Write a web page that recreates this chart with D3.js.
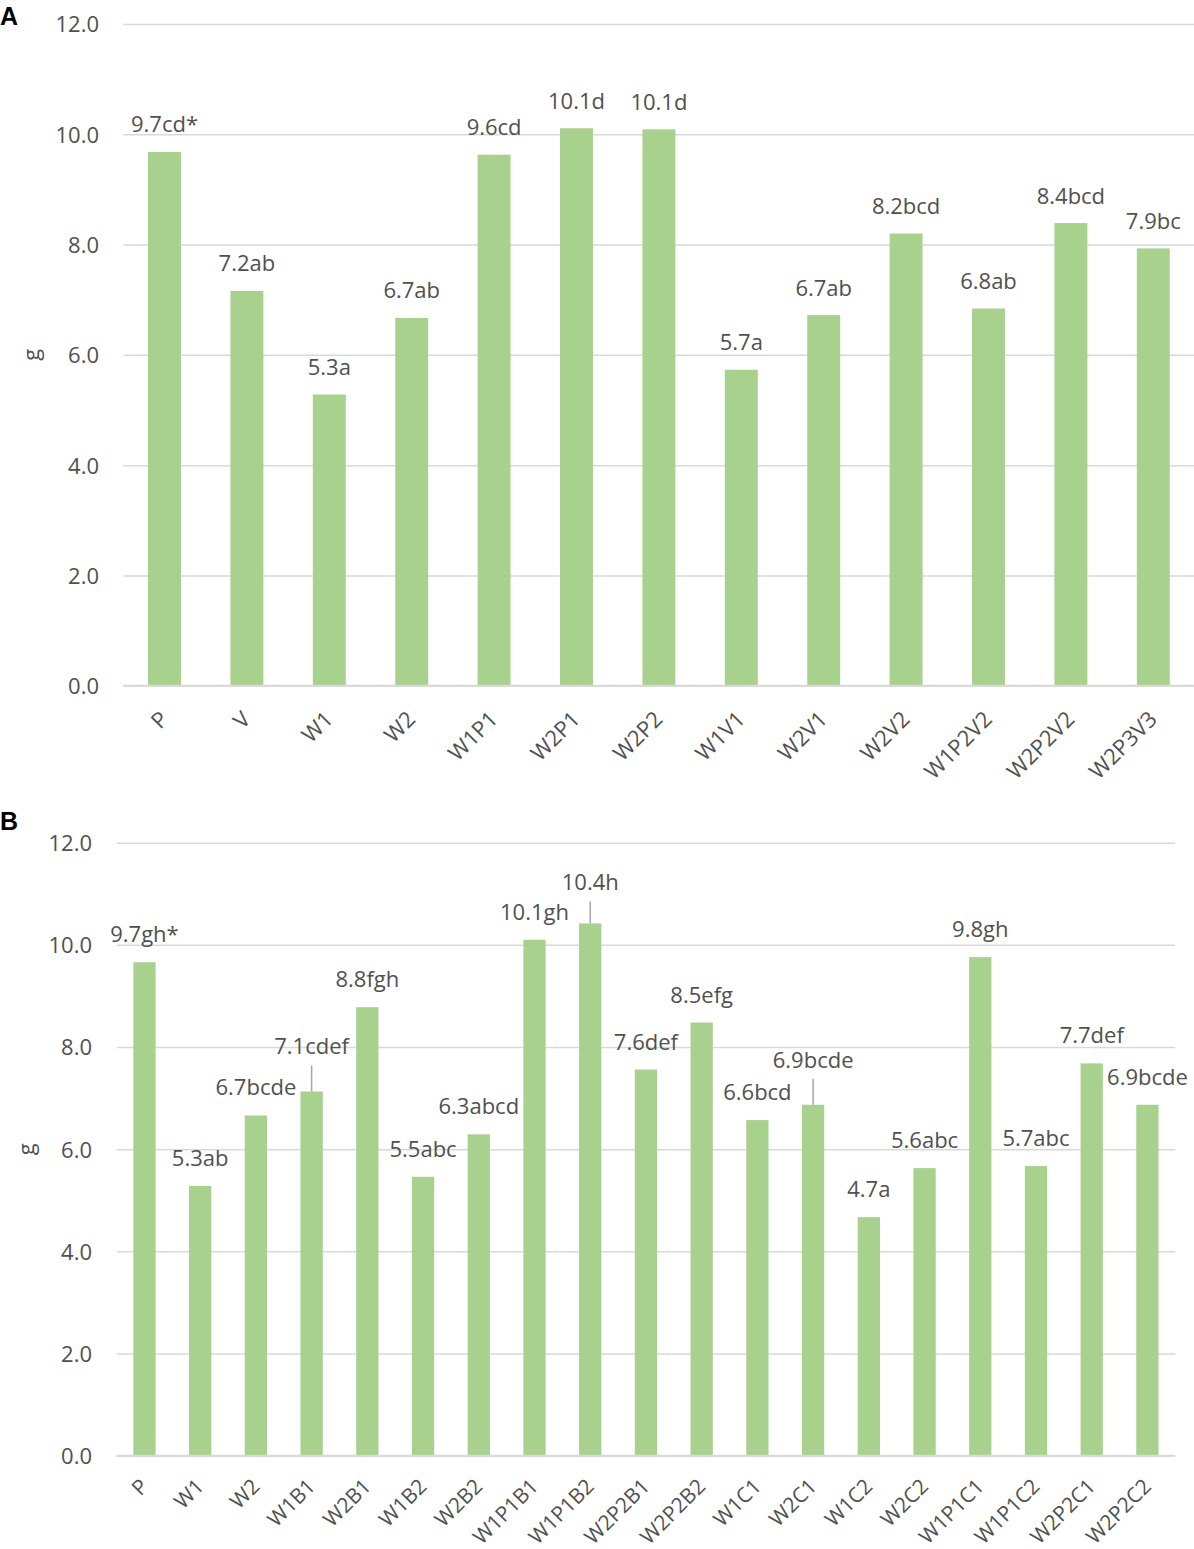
<!DOCTYPE html>
<html>
<head>
<meta charset="utf-8">
<script src="https://cdn.jsdelivr.net/npm/d3@7"></script>
<style>
  body { margin: 0; background: #ffffff; }
  text { font-family: "Open Sans", "Noto Sans", sans-serif; }
</style>
</head>
<body>
<svg id="chart" width="1194" height="1549"></svg>
<script>
// ---------- Data ----------
const categoriesA = ["P", "V", "W1", "W2", "W1P1", "W2P1", "W2P2", "W1V1", "W2V1", "W2V2", "W1P2V2", "W2P2V2", "W2P3V3"];
const valuesA = [9.68, 7.16, 5.28, 6.67, 9.63, 10.11, 10.09, 5.73, 6.72, 8.20, 6.84, 8.39, 7.93];
const labelsA = ["9.7cd*", "7.2ab", "5.3a", "6.7ab", "9.6cd", "10.1d", "10.1d", "5.7a", "6.7ab", "8.2bcd", "6.8ab", "8.4bcd", "7.9bc"];

const categoriesB = ["P", "W1", "W2", "W1B1", "W2B1", "W1B2", "W2B2", "W1P1B1", "W1P1B2", "W2P2B1", "W2P2B2", "W1C1", "W2C1", "W1C2", "W2C2", "W1P1C1", "W1P1C2", "W2P2C1", "W2P2C2"];
const valuesB = [9.66, 5.28, 6.66, 7.13, 8.78, 5.46, 6.29, 10.10, 10.42, 7.56, 8.48, 6.57, 6.87, 4.67, 5.63, 9.76, 5.67, 7.68, 6.87];
const labelsB = ["9.7gh*", "5.3ab", "6.7bcde", "7.1cdef", "8.8fgh", "5.5abc", "6.3abcd", "10.1gh", "10.4h", "7.6def", "8.5efg", "6.6bcd", "6.9bcde", "4.7a", "5.6abc", "9.8gh", "5.7abc", "7.7def", "6.9bcde"];

const yTicks = [0, 2, 4, 6, 8, 10, 12];
const yTitle = "g";

// ---------- Drawing ----------
const svg = d3.select("#chart");
svg.append("rect").attr("width", 1194).attr("height", 1549).attr("fill", "#ffffff");

const BAR = "#a9d18e";
const TXT = "#505050";
const GRID = "#d9d9d9";

function drawPanel(cfg) {
  const g = svg.append("g");
  const x = d3.scaleBand().domain(cfg.cats).range([cfg.x0, cfg.x1]).paddingInner(0.6).paddingOuter(0.3);
  const y = d3.scaleLinear().domain([0, 12]).range([cfg.yBot, cfg.yTop]);

  // gridlines + tick labels
  const ax = g.append("g")
    .attr("transform", `translate(${cfg.x0},0)`)
    .call(d3.axisLeft(y).tickValues(yTicks).tickFormat(d3.format(".1f"))
      .tickSize(-(cfg.x1 - cfg.x0)).tickPadding(cfg.x0 - cfg.tickRight));
  ax.select(".domain").remove();
  ax.selectAll(".tick line").attr("stroke", GRID).attr("stroke-width", 1.5);
  ax.selectAll(".tick text").attr("fill", TXT).attr("font-size", 22)
    .attr("dy", "0.36em").style("font-family", '"Open Sans", sans-serif');

  // bars
  g.selectAll("rect.bar").data(cfg.vals).enter().append("rect")
    .attr("class", "bar")
    .attr("x", (d, i) => x(cfg.cats[i]))
    .attr("width", x.bandwidth())
    .attr("y", d => y(d))
    .attr("height", d => y(0) - y(d))
    .attr("fill", BAR);

  // zero line on top
  g.append("line").attr("x1", cfg.x0).attr("x2", cfg.x1)
    .attr("y1", y(0)).attr("y2", y(0)).attr("stroke", GRID).attr("stroke-width", 2);

  // data labels
  cfg.vals.forEach((v, i) => {
    const cx = x(cfg.cats[i]) + x.bandwidth() / 2;
    const lift = cfg.leader[cfg.cats[i]];
    const base = y(v) - (lift || cfg.gap);
    if (lift) {
      g.append("line").attr("x1", cx).attr("x2", cx)
        .attr("y1", base + 11).attr("y2", y(v))
        .attr("stroke", "#a6a6a6").attr("stroke-width", 1.5);
    }
    g.append("text").attr("x", cx).attr("y", base)
      .attr("text-anchor", "middle").attr("font-size", 22).attr("fill", TXT)
      .text(cfg.labels[i]);
  });

  // category labels
  cfg.cats.forEach(c => {
    const cx = x(c) + x.bandwidth() / 2;
    g.append("text")
      .attr("transform", `translate(${cx + 5},${y(0) + cfg.catDy}) rotate(-45)`)
      .attr("text-anchor", "end").attr("font-size", cfg.catSize).attr("fill", TXT)
      .text(c);
  });

  // axis title
  g.append("text")
    .attr("transform", `translate(${cfg.titleX},${(cfg.yTop + cfg.yBot) / 2}) rotate(-90)`)
    .attr("text-anchor", "middle").attr("dy", "0.3em")
    .attr("font-size", 22).attr("fill", TXT).text(yTitle);

  // panel letter
  g.append("text").attr("x", 0).attr("y", cfg.letterY)
    .attr("font-size", 25).attr("font-weight", "bold").attr("fill", "#000")
    .style("font-family", '"Liberation Sans", Arial, sans-serif')
    .text(cfg.letter);
}

drawPanel({
  cats: categoriesA, vals: valuesA, labels: labelsA,
  x0: 123.3, x1: 1194.5, yTop: 24, yBot: 685.7,
  tickRight: 99, titleX: 32, letter: "A", letterY: 25,
  gap: 19.5, leader: {}, catDy: 35, catSize: 22
});

drawPanel({
  cats: categoriesB, vals: valuesB, labels: labelsB,
  x0: 116.6, x1: 1175.3, yTop: 842.7, yBot: 1455.7,
  tickRight: 92, titleX: 27, letter: "B", letterY: 830,
  gap: 20, leader: { "W1B1": 37, "W1P1B2": 33, "W2C1": 37 }, catDy: 32, catSize: 21
});
</script>
</body>
</html>
